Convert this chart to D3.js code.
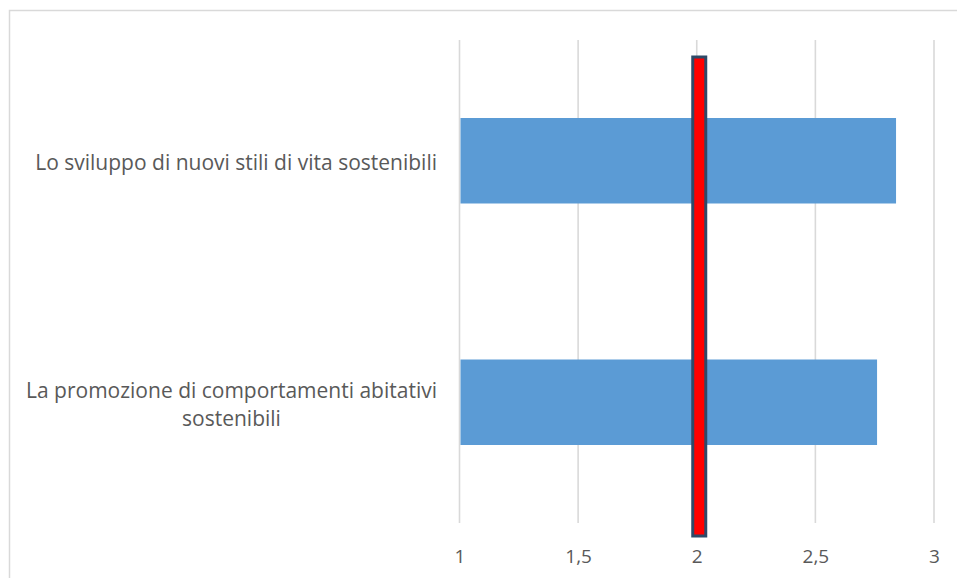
<!DOCTYPE html>
<html>
<head>
<meta charset="utf-8">
<script src="https://cdn.jsdelivr.net/npm/d3@7"></script>
<style>
  html, body { margin: 0; padding: 0; background: #fff; }
  svg { display: block; }
</style>
</head>
<body>
<svg id="chart" width="957" height="578"></svg>
<script>
// Survey items (each entry is one line of the wrapped label)
const categories = [
  ["Lo sviluppo di nuovi stili di vita sostenibili"],
  ["La promozione di comportamenti abitativi", "sostenibili"]
];
// Mean scores
const values = [2.84, 2.76];
// Axis ticks
const tickValues = [1, 1.5, 2, 2.5, 3];
const tickLabels = ["1", "1,5", "2", "2,5", "3"];
// Reference threshold marked in red
const referenceValue = 2;

const svg = d3.select("#chart");
const W = 957, H = 578;
const plot = { left: 459.5, right: 934, top: 40, bottom: 523 };
const font = "'Open Sans', sans-serif";
const textColor = "#595959";

// outer frame
svg.append("rect")
  .attr("x", 9.5).attr("y", 10.5)
  .attr("width", W + 20).attr("height", H + 20)
  .attr("fill", "#fff").attr("stroke", "#d9d9d9").attr("stroke-width", 1.5);

const x = d3.scaleLinear().domain([1, 3]).range([plot.left, plot.right]);
const y = d3.scaleBand()
  .domain(d3.range(categories.length))
  .range([plot.top, plot.bottom])
  .paddingInner(0.646).paddingOuter(0.323);

// vertical gridlines
svg.append("g").selectAll("line").data(tickValues).join("line")
  .attr("x1", d => x(d)).attr("x2", d => x(d))
  .attr("y1", plot.top).attr("y2", plot.bottom)
  .attr("stroke", "#d9d9d9").attr("stroke-width", 1.6);

// bars
svg.append("g").selectAll("rect").data(values).join("rect")
  .attr("x", x(1) + 1)
  .attr("y", (d, i) => y(i))
  .attr("width", d => x(d) - x(1) - 1)
  .attr("height", y.bandwidth())
  .attr("fill", "#5b9bd5");

// tick labels
const xAxis = d3.axisBottom(x).tickValues(tickValues)
  .tickFormat((d, i) => tickLabels[i]).tickSize(0).tickPadding(0);
const gx = svg.append("g").attr("transform", `translate(0, 549)`).call(xAxis);
gx.select(".domain").remove();
gx.selectAll("text")
  .attr("dy", "0.71em")
  .attr("fill", textColor)
  .style("font-family", font).style("font-size", "19px");

// category labels, right edge aligned, wrapped lines centred on each other
const labelRight = 437;
const lineH = 28;
const gl = svg.append("g");
categories.forEach((lines, i) => {
  const cy = y(i) + y.bandwidth() / 2 + 2;
  const g = gl.append("g");
  const texts = lines.map((ln, j) => g.append("text")
    .text(ln)
    .attr("y", cy + (j - (lines.length - 1) / 2) * lineH)
    .attr("dy", "0.35em")
    .attr("text-anchor", "middle")
    .attr("fill", textColor)
    .style("font-family", font).style("font-size", "21px"));
  const widest = d3.max(texts, t => t.node().getComputedTextLength());
  texts.forEach(t => t.attr("x", labelRight - widest / 2));
});

// red reference marker at the threshold
const markerW = 13;
svg.append("rect")
  .attr("x", x(referenceValue) + 2.5 - markerW / 2)
  .attr("y", plot.top + 17)
  .attr("width", markerW)
  .attr("height", plot.bottom - plot.top - 4)
  .attr("fill", "#ff0000")
  .attr("stroke", "#2f4a68")
  .attr("stroke-width", 3);
</script>
</body>
</html>
